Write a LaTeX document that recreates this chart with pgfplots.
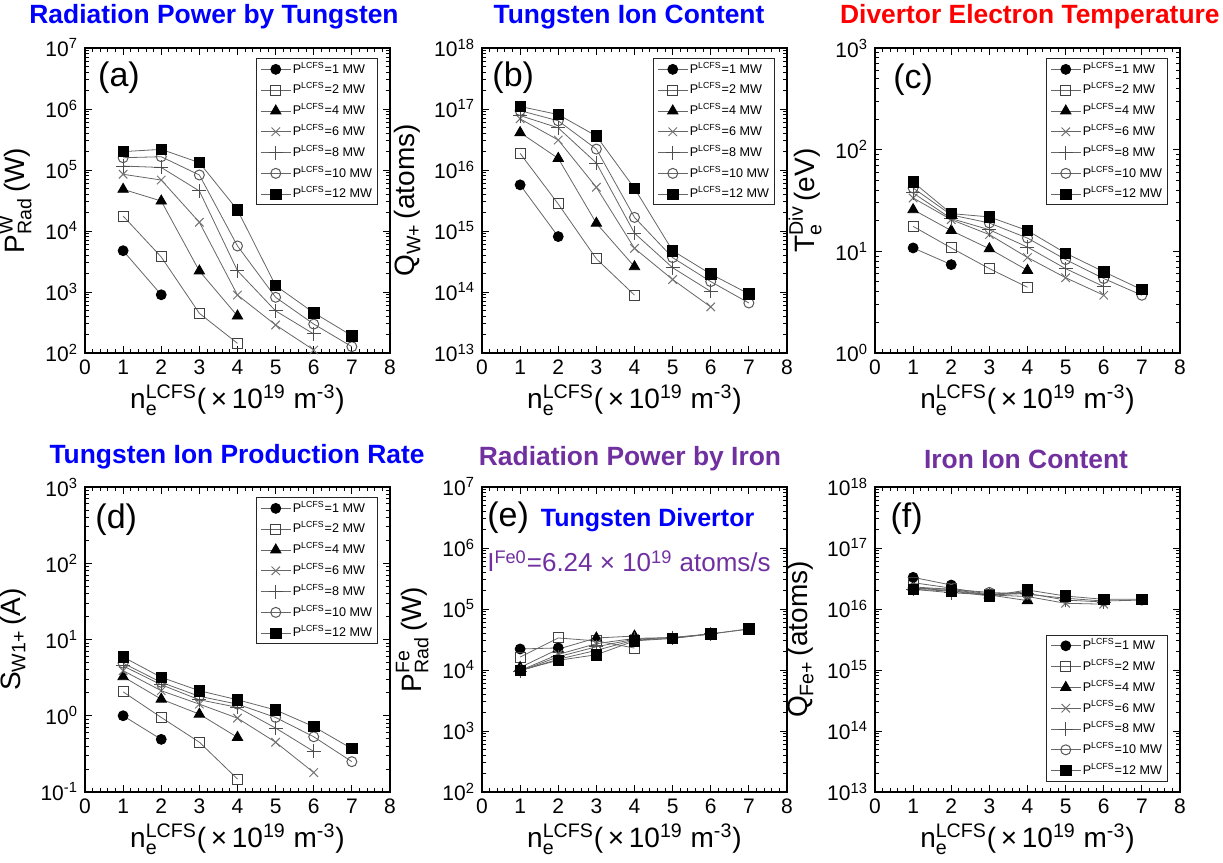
\documentclass[border=0pt]{standalone}
\usepackage{fontspec}
\setmainfont{Liberation Sans}
\usepackage{amsmath}
\usepackage{pgfplots}
\pgfplotsset{compat=1.18}
\definecolor{tblue}{RGB}{0,0,255}
\definecolor{tred}{RGB}{255,0,0}
\definecolor{tpurple}{RGB}{112,48,160}
\newcommand{\sx}{\text{n}_{\text{e}}^{\text{LCFS}}}
\newcommand{\md}[1]{2e#1,3e#1,4e#1,5e#1,6e#1,7e#1,8e#1,9e#1}
\edef\minAE{\md{2},\md{3},\md{4},\md{5},\md{6}}
\edef\minBF{\md{13},\md{14},\md{15},\md{16},\md{17}}
\edef\minC{\md{0},\md{1},\md{2}}
\edef\minD{\md{-1},\md{0},\md{1},\md{2}}
\tikzset{plab/.style={anchor=north west, inner sep=0pt, font=\fontsize{17}{19}\selectfont}}
\pgfplotsset{
  mypanel/.style={
    scale only axis, width=152.5pt, height=152.5pt, anchor=south west,
    xmin=0, xmax=8, xtick={0,1,2,3,4,5,6,7,8}, xticklabels={0,1,2,3,4,5,6,7,8},
    minor x tick num=4,
    axis line style={line width=0.9pt},
    major tick length=3.5pt, minor tick length=1.8pt,
    tick style={black, line width=0.45pt},
    tick label style={font=\fontsize{10.5}{12}\selectfont},
    xlabel={$\sx$(\,×\,10\textsuperscript{19} m\textsuperscript{-3})},
    label style={font=\fontsize{14}{16}\selectfont},
    xlabel style={yshift=2pt},
    legend style={font=\fontsize{6.3}{7}\selectfont, draw=black!85, line width=0.5pt,
      inner xsep=2pt, inner ysep=1.5pt, row sep=2.6pt,
      nodes={inner sep=0.8pt, text height=5pt, text depth=1.2pt},
      at={(0.961,0.967)}, anchor=north east},
    legend cell align=left,
    legend image code/.code={\draw[mark repeat=2,mark phase=2] plot coordinates {(0pt,0pt) (7.5pt,0pt) (15pt,0pt)};},
  },
  mygray/.style={black!60, line width=0.4pt},
  s1/.style={mygray, mark=*, mark size=2.5pt, mark options={solid, draw=black, fill=black}},
  s2/.style={mygray, mark=square, mark size=2.5pt, mark options={solid, draw=black!75, fill=white, line width=0.5pt}},
  s3/.style={mygray, mark=triangle*, mark size=3pt, mark options={solid, draw=black, fill=black}},
  s4/.style={mygray, mark=x, mark size=3pt, mark options={solid, draw=black!55, line width=0.5pt}},
  s5/.style={mygray, mark=+, mark size=3.5pt, mark options={solid, draw=black!70, line width=0.5pt}},
  s6/.style={mygray, mark=o, mark size=2.5pt, mark options={solid, draw=black!65, fill=white, line width=0.5pt}},
  s7/.style={mygray, mark=square*, mark size=2.6pt, mark options={solid, draw=black, fill=black}},
}
\newcommand{\leg}{\legend{P\textsuperscript{LCFS}=1 MW, P\textsuperscript{LCFS}=2 MW, P\textsuperscript{LCFS}=4 MW, P\textsuperscript{LCFS}=6 MW, P\textsuperscript{LCFS}=8 MW, P\textsuperscript{LCFS}=10 MW, P\textsuperscript{LCFS}=12 MW}}
\begin{document}
\begin{tikzpicture}
\useasboundingbox (0,0) rectangle (611.5pt,431.5pt);
% titles
\node[font=\bfseries\fontsize{13.2}{15}\selectfont, text=tblue] at (107pt,423pt) {Radiation Power by Tungsten};
\node[font=\bfseries\fontsize{13.2}{15}\selectfont, text=tblue] at (314.5pt,423pt) {Tungsten Ion Content};
\node[font=\bfseries\fontsize{13.2}{15}\selectfont, text=tred, anchor=east, inner xsep=0pt] at (610pt,423pt) {Divertor Electron Temperature};
\node[font=\bfseries\fontsize{13.2}{15}\selectfont, text=tblue] at (118.5pt,203pt) {Tungsten Ion Production Rate};
\node[font=\bfseries\fontsize{13.2}{15}\selectfont, text=tpurple] at (315pt,202pt) {Radiation Power by Iron};
\node[font=\bfseries\fontsize{13.2}{15}\selectfont, text=tpurple] at (513pt,202pt) {Iron Ion Content};

% (a)
\begin{axis}[mypanel, ymode=log, at={(42.5pt,255pt)}, ymin=1e2, ymax=1e7,
  ytick={1e2,1e3,1e4,1e5,1e6,1e7}, minor ytick/.expanded={\minAE},
  yticklabels={10\textsuperscript{2},10\textsuperscript{3},10\textsuperscript{4},10\textsuperscript{5},10\textsuperscript{6},10\textsuperscript{7}},
  ylabel={$\text{P}_{\text{Rad}}^{\text{W}}$\,(W)}]
\addplot[s1] coordinates {(1,4750) (2,900)};
\addplot[s2] coordinates {(1,17600) (2,3750) (3,447) (4,144)};
\addplot[s3] coordinates {(1,48200) (2,31000) (3,2210) (4,404)};
\addplot[s4] coordinates {(1,85000) (2,68500) (3,13900) (4,891) (5,288) (6,112)};
\addplot[s5] coordinates {(1,116000) (2,110000) (3,45300) (4,2230) (5,490) (6,205)};
\addplot[s6] coordinates {(1,159000) (2,165000) (3,82800) (4,5680) (5,818) (6,298) (7,127)};
\addplot[s7] coordinates {(1,200000) (2,218000) (3,132000) (4,22100) (5,1270) (6,457) (7,192)};
\leg
\node[plab] at (rel axis cs:0.042,0.955) {(a)};
\end{axis}

% (b)
\begin{axis}[mypanel, ymode=log, at={(241pt,255pt)}, ymin=1e13, ymax=1e18,
  ytick={1e13,1e14,1e15,1e16,1e17,1e18}, minor ytick/.expanded={\minBF},
  yticklabels={10\textsuperscript{13},10\textsuperscript{14},10\textsuperscript{15},10\textsuperscript{16},10\textsuperscript{17},10\textsuperscript{18}},
  ylabel={$\text{Q}_{\text{W+}}$\,(atoms)}]
\addplot[s1] coordinates {(1,5.7e15) (2,8.1e14)};
\addplot[s2] coordinates {(1,1.87e16) (2,2.77e15) (3,3.5e14) (4,8.9e13)};
\addplot[s3] coordinates {(1,4.1e16) (2,1.55e16) (3,1.34e15) (4,2.6e14)};
\addplot[s4] coordinates {(1,6.9e16) (2,3.1e16) (3,5.2e15) (4,5.2e14) (5,1.6e14) (6,5.7e13)};
\addplot[s5] coordinates {(1,7.8e16) (2,4.9e16) (3,1.3e16) (4,9.2e14) (5,2.5e14) (6,1.02e14)};
\addplot[s6] coordinates {(1,9.4e16) (2,6.4e16) (3,2.2e16) (4,1.67e15) (5,3.66e14) (6,1.48e14) (7,6.6e13)};
\addplot[s7] coordinates {(1,1.1e17) (2,8.1e16) (3,3.6e16) (4,5.0e15) (5,4.75e14) (6,1.97e14) (7,9.3e13)};
\leg
\node[plab] at (rel axis cs:0.033,0.957) {(b)};
\end{axis}

% (c)
\begin{axis}[mypanel, ymode=log, at={(437.5pt,255pt)}, ymin=1, ymax=1e3,
  ytick={1,10,100,1000}, minor ytick/.expanded={\minC},
  yticklabels={10\textsuperscript{0},10\textsuperscript{1},10\textsuperscript{2},10\textsuperscript{3}},
  ylabel={$\text{T}_{\text{e}}^{\text{Div}}$\,(eV)}]
\addplot[s1] coordinates {(1,10.8) (2,7.4)};
\addplot[s2] coordinates {(1,17.6) (2,10.8) (3,6.76) (4,4.43)};
\addplot[s3] coordinates {(1,25.7) (2,16) (3,10.6) (4,6.5)};
\addplot[s4] coordinates {(1,33.5) (2,20.5) (3,14.6) (4,8.7) (5,5.5) (6,3.7)};
\addplot[s5] coordinates {(1,37.5) (2,21) (3,16.3) (4,11) (5,6.76) (6,4.5)};
\addplot[s6] coordinates {(1,42) (2,22.8) (3,19) (4,13.5) (5,8.3) (6,5.4) (7,3.7)};
\addplot[s7] coordinates {(1,48) (2,23.5) (3,21.8) (4,16) (5,9.6) (6,6.3) (7,4.2)};
\leg
\node[plab] at (rel axis cs:0.059,0.95) {(c)};
\end{axis}

% (d)
\begin{axis}[mypanel, ymode=log, at={(42.5pt,35.5pt)}, ymin=0.1, ymax=1e3,
  ytick={0.1,1,10,100,1000}, minor ytick/.expanded={\minD},
  yticklabels={10\textsuperscript{-1},10\textsuperscript{0},10\textsuperscript{1},10\textsuperscript{2},10\textsuperscript{3}},
  ylabel={$\text{S}_{\text{W1+}}$\,(A)}]
\addplot[s1] coordinates {(1,1.0) (2,0.49)};
\addplot[s2] coordinates {(1,2.06) (2,0.95) (3,0.45) (4,0.148)};
\addplot[s3] coordinates {(1,3.25) (2,1.65) (3,1.05) (4,0.52)};
\addplot[s4] coordinates {(1,3.9) (2,2.13) (3,1.42) (4,0.93) (5,0.45) (6,0.18)};
\addplot[s5] coordinates {(1,4.5) (2,2.55) (3,1.62) (4,1.29) (5,0.69) (6,0.34)};
\addplot[s6] coordinates {(1,4.9) (2,2.74) (3,1.8) (4,1.42) (5,0.95) (6,0.53) (7,0.25)};
\addplot[s7] coordinates {(1,5.9) (2,3.19) (3,2.13) (4,1.62) (5,1.19) (6,0.72) (7,0.37)};
\leg
\node[plab] at (rel axis cs:0.033,0.947) {(d)};
\end{axis}

% (e)
\begin{axis}[mypanel, ymode=log, at={(241pt,35.5pt)}, ymin=1e2, ymax=1e7,
  ytick={1e2,1e3,1e4,1e5,1e6,1e7}, minor ytick/.expanded={\minAE},
  yticklabels={10\textsuperscript{2},10\textsuperscript{3},10\textsuperscript{4},10\textsuperscript{5},10\textsuperscript{6},10\textsuperscript{7}},
  ylabel={$\text{P}_{\text{Rad}}^{\text{Fe}}$\,(W)}]
\addplot[s1] coordinates {(1,22100) (2,23000)};
\addplot[s2] coordinates {(1,16300) (2,33500) (3,30000) (4,22900)};
\addplot[s3] coordinates {(1,11000) (2,22000) (3,33500) (4,36000)};
\addplot[s4] coordinates {(1,9800) (2,18000) (3,27000) (4,33000) (5,34000) (6,39000)};
\addplot[s5] coordinates {(1,9600) (2,16500) (3,24000) (4,32000) (5,34000) (6,39000)};
\addplot[s6] coordinates {(1,9700) (2,15000) (3,21000) (4,31000) (5,33000) (6,39000) (7,47000)};
\addplot[s7] coordinates {(1,9900) (2,14400) (3,17800) (4,30000) (5,33000) (6,39000) (7,47000)};
\node[anchor=base west, inner sep=0pt] at (rel axis cs:0.016,0.872) {{\fontsize{17}{19}\selectfont (e)}\hspace{6pt}{\color{tblue}\bfseries\fontsize{12.5}{14}\selectfont Tungsten Divertor}};
\node[anchor=base west, inner sep=0pt, text=tpurple, font=\fontsize{13}{15}\selectfont] at (rel axis cs:0.016,0.722) {I\textsuperscript{Fe0}=6.24 × 10\textsuperscript{19} atoms/s};
\end{axis}

% (f)
\begin{axis}[mypanel, ymode=log, at={(437.5pt,35.5pt)}, ymin=1e13, ymax=1e18,
  ytick={1e13,1e14,1e15,1e16,1e17,1e18}, minor ytick/.expanded={\minBF},
  yticklabels={10\textsuperscript{13},10\textsuperscript{14},10\textsuperscript{15},10\textsuperscript{16},10\textsuperscript{17},10\textsuperscript{18}},
  ylabel={$\text{Q}_{\text{Fe+}}$\,(atoms)},
  legend style={at={(0.961,0.033)}, anchor=south east}]
\addplot[s1] coordinates {(1,3.3e16) (2,2.47e16)};
\addplot[s2] coordinates {(1,2.7e16) (2,2.2e16) (3,1.75e16) (4,1.9e16)};
\addplot[s3] coordinates {(1,2.3e16) (2,2.1e16) (3,1.7e16) (4,1.37e16)};
\addplot[s4] coordinates {(1,2.2e16) (2,2.0e16) (3,1.7e16) (4,1.6e16) (5,1.24e16) (6,1.2e16)};
\addplot[s5] coordinates {(1,2.1e16) (2,1.85e16) (3,1.7e16) (4,1.8e16) (5,1.4e16) (6,1.3e16)};
\addplot[s6] coordinates {(1,2.2e16) (2,2.1e16) (3,1.87e16) (4,1.75e16) (5,1.5e16) (6,1.35e16) (7,1.4e16)};
\addplot[s7] coordinates {(1,2.1e16) (2,1.97e16) (3,1.63e16) (4,2.05e16) (5,1.63e16) (6,1.44e16) (7,1.44e16)};
\leg
\node[plab] at (rel axis cs:0.05,0.95) {(f)};
\end{axis}
\end{tikzpicture}
\end{document}
